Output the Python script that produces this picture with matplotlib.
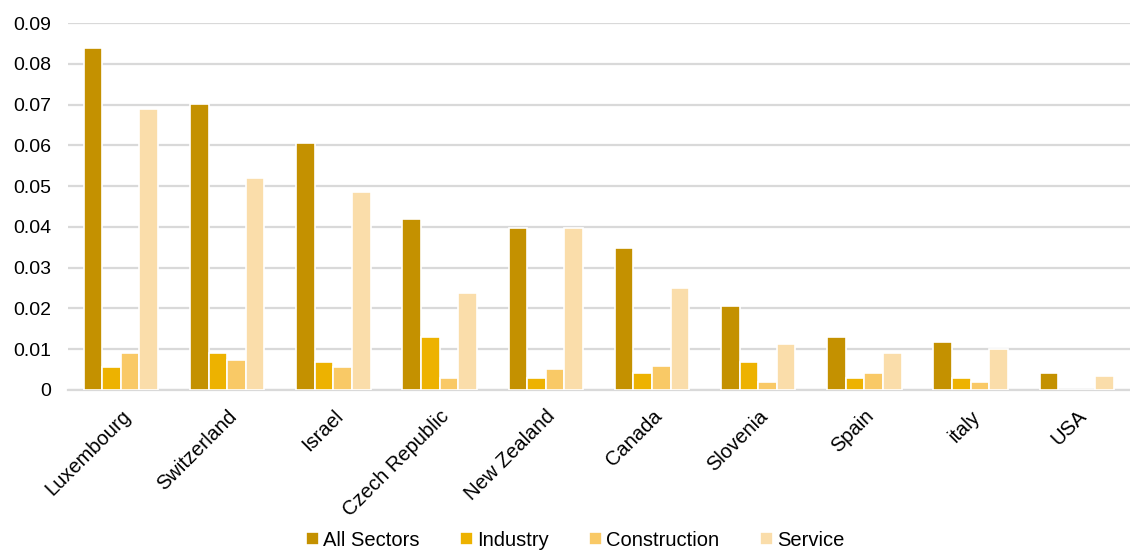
import matplotlib
matplotlib.use("Agg")
import matplotlib.pyplot as plt
import numpy as np

plt.rcParams['font.family'] = ['Liberation Sans', 'DejaVu Sans']

countries = ["Luxembourg", "Switzerland", "Israel", "Czech Republic", "New Zealand",
             "Canada", "Slovenia", "Spain", "italy", "USA"]
all_sectors = [0.0838, 0.0702, 0.0607, 0.0420, 0.0398, 0.0348, 0.0206, 0.0130, 0.0118, 0.0042]
industry = [0.0057, 0.0091, 0.0068, 0.0130, 0.0030, 0.0041, 0.0069, 0.0030, 0.0030, 0.0]
construction = [0.0091, 0.0074, 0.0057, 0.0030, 0.0052, 0.0058, 0.0020, 0.0042, 0.0020, 0.0]
service = [0.0690, 0.0519, 0.0485, 0.0238, 0.0398, 0.0250, 0.0113, 0.0091, 0.0100, 0.0035]

series_names = ["All Sectors", "Industry", "Construction", "Service"]
colors = ["#C49100", "#EDB200", "#F9C966", "#FADDAA"]

fig = plt.figure(figsize=(11.3, 5.5), dpi=100)
ax = fig.add_axes([0.060, 0.291, 0.940, 0.667])

x = np.arange(len(countries))
w = 0.175
data = [all_sectors, industry, construction, service]
for i, (vals, name, c) in enumerate(zip(data, series_names, colors)):
    ax.bar(x + (i - 1.5) * w, vals, width=w, color=c, edgecolor="white",
           linewidth=1.2, label=name, zorder=3)

ax.set_xlim(-0.5, len(countries) - 0.5)
ax.set_ylim(0, 0.09)
yt = np.arange(0, 0.0901, 0.01)
ax.set_yticks(yt)
ax.set_yticklabels(["0"] + [f"{v:.2f}" for v in yt[1:]], fontsize=14)
ax.set_xticks(x)
ax.set_xticklabels(countries, rotation=45, ha="right", rotation_mode="anchor", fontsize=14.5)
ax.tick_params(axis="both", length=0)
ax.tick_params(axis="y", pad=12)
ax.tick_params(axis="x", pad=12)
ax.yaxis.grid(True, color="#d9d9d9", linewidth=1.6, zorder=0)
for s in ["top", "right", "left"]:
    ax.spines[s].set_visible(False)
ax.spines["bottom"].set_color("#d9d9d9")
ax.spines["bottom"].set_linewidth(1.6)

fig.legend(loc="center", bbox_to_anchor=(0.509, 0.018), ncol=4, frameon=False,
           fontsize=14.5, handlelength=0.65, handleheight=0.65, handletextpad=0.2,
           columnspacing=2.0)

fig.savefig("out.png", dpi=100)
